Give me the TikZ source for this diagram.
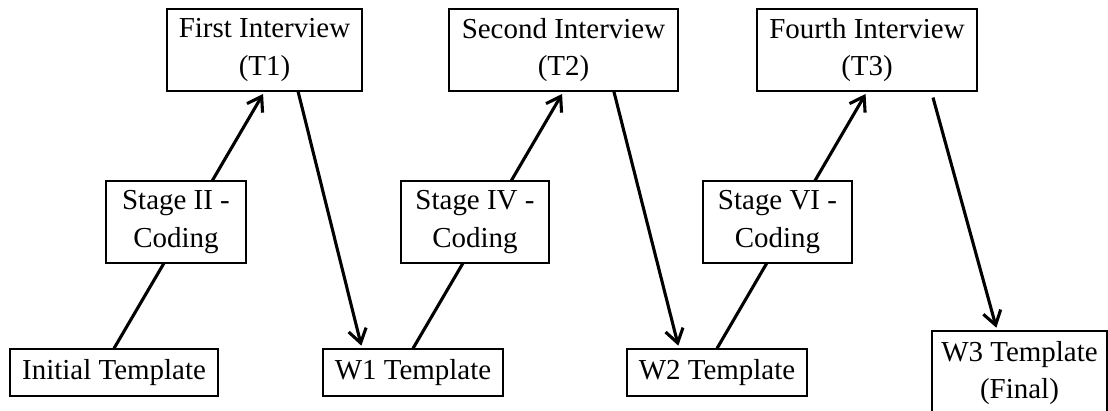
\documentclass[tikz,border=0pt]{standalone}
\usepackage{fontspec}
\setmainfont{Liberation Serif}
\usetikzlibrary{arrows.meta,positioning}

\begin{document}
\begin{tikzpicture}[>={Straight Barb[length=0.34cm,width=0.45cm]},shorten >=2pt,
		font=\fontsize{20.6}{26.5}\selectfont,
		box/.style={draw,line width=0.8pt,fill=white,align=center,inner sep=0pt,minimum height=2.05cm},
		tmpl/.style={box,minimum height=1.175cm},
		flow/.style={->,line width=2.2pt}]
			\clip (0,0) rectangle (27.7,10.275);
			% interviews
			\node[box,minimum width=4.875cm] (int_1) at (6.6125,9.025) {First Interview\\(T1)};
			\node[box,minimum width=5.725cm] (int_2) at (14.0875,9.025) {Second Interview\\(T2)};
			\node[box,minimum width=5.5cm] (int_3) at (21.675,9.025) {Fourth Interview\\(T3)};
			% templates
			\node[tmpl,minimum width=5.2cm] (tpl_0) at (2.85,0.9625) {Initial Template};
			\node[tmpl,minimum width=4.5cm] (tpl_1) at (10.325,0.9625) {W1 Template};
			\node[tmpl,minimum width=4.5cm] (tpl_2) at (17.925,0.9625) {W2 Template};
			\node[box,minimum width=4.375cm,minimum height=2.1cm] (tpl_3) at (25.4875,0.95) {W3 Template\\(Final)};
			\path[flow]
				(tpl_0.north) edge (int_1.south)
				(tpl_1.north) edge (int_2.south)
				(tpl_2.north) edge (int_3.south)
				([xshift=0.84cm]int_1.south) edge ([xshift=-1.275cm]tpl_1.north)
				([xshift=1.26cm]int_2.south) edge ([xshift=-0.95cm]tpl_2.north)
				([xshift=1.65cm,yshift=-0.15cm]int_3.south) edge ([xshift=-0.56cm]tpl_3.north);
			% coding stages sit on top of the arrows
			\node[box,minimum width=3.5cm] (stg_2) at (4.4,4.725) {Stage II -\\Coding};
			\node[box,minimum width=3.7cm] (stg_4) at (11.875,4.725) {Stage IV -\\Coding};
			\node[box,minimum width=3.725cm] (stg_6) at (19.4375,4.725) {Stage VI -\\Coding};
		\end{tikzpicture}
\end{document}
